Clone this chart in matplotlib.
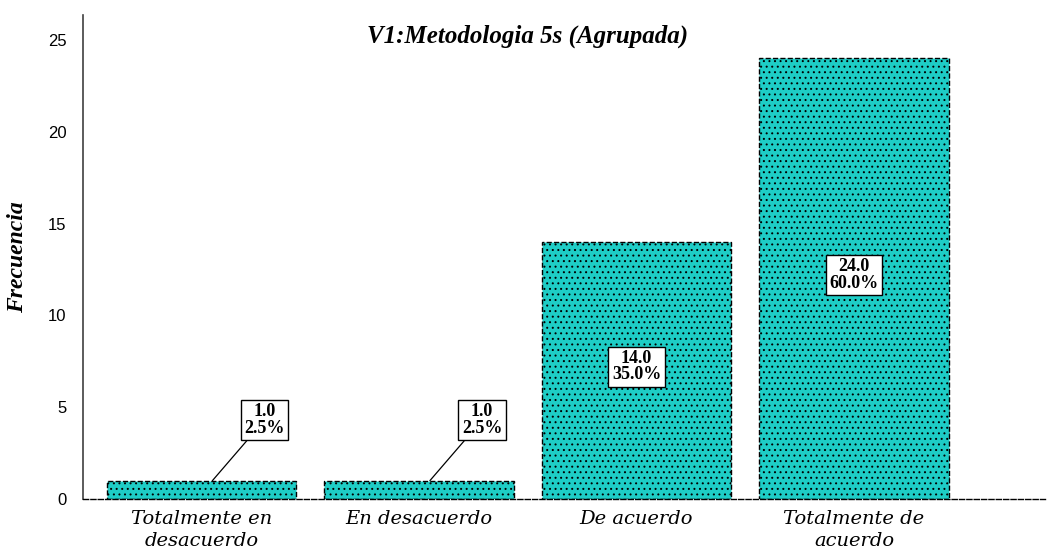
import matplotlib.pyplot as plt

categories = ["Totalmente en\ndesacuerdo", "En desacuerdo", "De acuerdo", "Totalmente de\nacuerdo"]
counts = [1, 1, 14, 24]
percents = [2.5, 2.5, 35.0, 60.0]

plt.rcParams['hatch.color'] = 'black'
plt.rcParams['hatch.linewidth'] = 0.7

fig = plt.figure(figsize=(10.49, 5.52), dpi=100)
ax = fig.add_axes([83 / 1049, 1 - 499 / 552, 962 / 1049, 484 / 552])

x = list(range(len(categories)))
ax.bar(x, counts, width=0.87, color='#1ecdc6', edgecolor='black',
       linestyle='--', linewidth=1.0, hatch='...')

ax.set_xlim(-0.545, 3.878)
ax.set_ylim(0, 26.36)
ax.set_yticks([0, 5, 10, 15, 20, 25])
ax.set_xticks(x)
ax.set_xticklabels(categories, family='DejaVu Serif', style='italic', fontsize=14,
                   linespacing=1.3)
for lab in ax.get_yticklabels():
    lab.set_family('Liberation Sans')
    lab.set_fontsize(12)
ax.tick_params(axis='y', length=0, pad=12)
ax.tick_params(axis='x', length=0, pad=8)

for side in ['top', 'right']:
    ax.spines[side].set_visible(False)
ax.spines['left'].set_color('#404040')
ax.spines['left'].set_linewidth(1.2)
ax.spines['bottom'].set_linestyle('--')
ax.spines['bottom'].set_linewidth(1.0)

box = dict(boxstyle='square,pad=0.2', fc='white', ec='black', lw=1.0)
for i, (c, p) in enumerate(zip(counts, percents)):
    txt = f"{c:.1f}\n{p:.1f}%"
    if c < 3:
        ax.annotate(txt, xy=(i + 0.05, c), xytext=(i + 0.29, 4.3),
                    ha='center', va='center', family='Liberation Serif',
                    weight='bold', fontsize=13, linespacing=0.95, bbox=box,
                    arrowprops=dict(arrowstyle='-', color='black', lw=0.9,
                                    shrinkA=0, shrinkB=0))
    else:
        ax.text(i, c / 2 + 0.2, txt, ha='center', va='center',
                family='Liberation Serif', weight='bold', fontsize=13,
                linespacing=0.95, bbox=box)

ax.text(0.462, 0.955, "V1:Metodologia 5s (Agrupada)", transform=ax.transAxes,
        ha='center', va='center', family='Liberation Serif', style='italic',
        weight='bold', fontsize=18)
ax.set_ylabel("Frecuencia", family='Liberation Serif', style='italic',
              weight='bold', fontsize=17, labelpad=14)

fig.savefig('out.png', dpi=100)
